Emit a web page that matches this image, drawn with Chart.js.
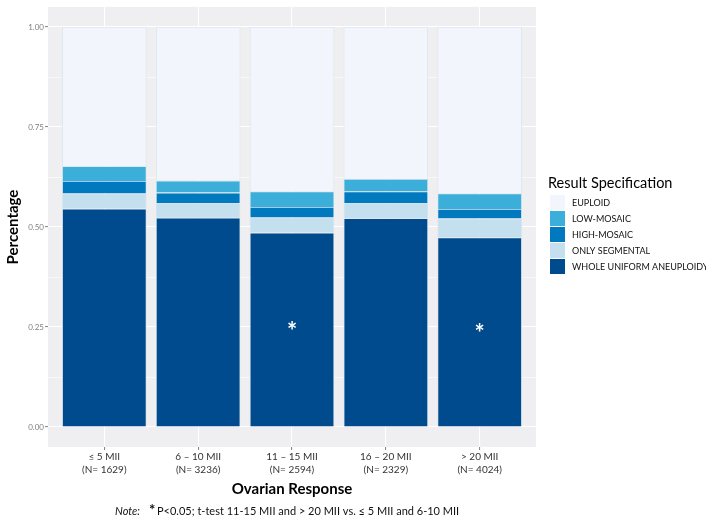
<!DOCTYPE html>
<html>
<head>
<meta charset="utf-8">
<script src="https://cdn.jsdelivr.net/npm/chart.js@4.4.1/dist/chart.umd.min.js"></script>
<style>
  html, body { margin: 0; padding: 0; background: #ffffff; }
  canvas { display: block; }
</style>
</head>
<body>
<canvas id="chart" width="706" height="527"></canvas>
<script>
// Ovarian response groups, bottom-to-top share of each result type
const groups = ["≤ 5 MII", "6 – 10 MII", "11 – 15 MII", "16 – 20 MII", "> 20 MII"];
const groupN = ["(N= 1629)", "(N= 3236)", "(N= 2594)", "(N= 2329)", "(N= 4024)"];

const wholeUniform = [0.546, 0.523, 0.486, 0.522, 0.474];
const onlySegmental = [0.038, 0.037, 0.038, 0.038, 0.047];
const highMosaic = [0.031, 0.026, 0.026, 0.029, 0.024];
const lowMosaic = [0.037, 0.030, 0.039, 0.031, 0.039];
const euploid = [0.348, 0.384, 0.411, 0.380, 0.416];

// significance markers (y position of the star, null = none)
const starAt = [null, null, 0.25, null, 0.245];

const yTicks = [0, 0.125, 0.25, 0.375, 0.5, 0.625, 0.75, 0.875, 1];

const FONT = "Lato, 'Open Sans', sans-serif";
const PANEL_BG = "#EFEFF1";

const SERIES = [
  { label: "WHOLE UNIFORM ANEUPLOIDY", values: wholeUniform, color: "#004B8D" },
  { label: "ONLY SEGMENTAL", values: onlySegmental, color: "#C4DFEE" },
  { label: "HIGH-MOSAIC", values: highMosaic, color: "#0079BF" },
  { label: "LOW-MOSAIC", values: lowMosaic, color: "#3BAEDA" },
  { label: "EUPLOID", values: euploid, color: "#F2F5FB" },
];

const isMajor = v => Math.abs(v * 4 - Math.round(v * 4)) < 1e-6;

const panelPlugin = {
  id: "panel",
  beforeDraw(chart) {
    const { ctx, chartArea: a } = chart;
    ctx.save();
    ctx.fillStyle = PANEL_BG;
    ctx.fillRect(a.left, a.top, a.right - a.left, a.bottom - a.top);
    ctx.restore();
  },
  afterDatasetsDraw(chart) {
    const { ctx, scales } = chart;
    ctx.save();
    ctx.fillStyle = "#ffffff";
    ctx.font = "bold 24px " + FONT;
    ctx.textAlign = "center";
    ctx.textBaseline = "middle";
    starAt.forEach((v, i) => {
      if (v == null) return;
      ctx.fillText("*", scales.x.getPixelForValue(i + 1), scales.y.getPixelForValue(v) + 5);
    });
    ctx.restore();
  },
  afterDraw(chart) {
    const { ctx, chartArea: a } = chart;
    ctx.save();
    ctx.fillStyle = "#000000";

    // y axis title
    ctx.save();
    ctx.translate(13, (a.top + a.bottom) / 2);
    ctx.rotate(-Math.PI / 2);
    ctx.font = "bold 15px " + FONT;
    ctx.textAlign = "center";
    ctx.textBaseline = "middle";
    ctx.fillText("Percentage", 0, 0);
    ctx.restore();

    // x axis title
    ctx.font = "bold 15px " + FONT;
    ctx.textAlign = "center";
    ctx.textBaseline = "middle";
    ctx.fillText("Ovarian Response", (a.left + a.right) / 2, 489);

    // footnote
    ctx.textAlign = "left";
    ctx.fillStyle = "#111111";
    ctx.font = "italic 11px " + FONT;
    ctx.fillText("Note:", 115, 511);
    ctx.font = "bold 15px " + FONT;
    ctx.fillText("*", 149, 510);
    ctx.font = "11px " + FONT;
    ctx.fillText("P<0.05; t-test 11-15 MII and > 20 MII vs. ≤ 5 MII and 6-10 MII", 157, 511);

    // legend
    ctx.fillStyle = "#000000";
    ctx.font = "14.5px " + FONT;
    ctx.textBaseline = "alphabetic";
    ctx.fillText("Result Specification", 548, 188);
    ctx.font = "9px " + FONT;
    ctx.textBaseline = "middle";
    SERIES.slice().reverse().forEach((s, i) => {
      const top = 195 + i * 16;
      ctx.fillStyle = s.color;
      ctx.fillRect(550, top, 15, 15);
      ctx.fillStyle = "#111111";
      ctx.fillText(s.label, 572, top + 8);
    });
    ctx.restore();
  },
};

new Chart(document.getElementById("chart"), {
  type: "bar",
  data: {
    datasets: SERIES.map(s => ({
      label: s.label,
      data: s.values.map((v, i) => ({ x: i + 1, y: v })),
      backgroundColor: s.color,
      borderColor: "rgba(205,226,240,0.9)",
      borderWidth: 0.8,
      barPercentage: 0.9,
      categoryPercentage: 1,
    })),
  },
  options: {
    responsive: false,
    animation: false,
    devicePixelRatio: 1,
    layout: { padding: { top: 7, right: 170, left: 0, bottom: 0 } },
    plugins: { legend: { display: false }, tooltip: { enabled: false } },
    scales: {
      x: {
        type: "linear",
        stacked: true,
        offset: false,
        min: 0.4,
        max: 5.6,
        afterFit(scale) { scale.height = 80; },
        afterBuildTicks(scale) { scale.ticks = groups.map((g, i) => ({ value: i + 1 })); },
        ticks: {
          autoSkip: false,
          maxRotation: 0,
          padding: 1,
          color: "#333333",
          font: { family: FONT, size: 10, lineHeight: 1.25 },
          callback: (v) => [groups[v - 1], groupN[v - 1]],
        },
        grid: { color: "#ffffff", lineWidth: 1.1, tickColor: "#8a8a8a", tickLength: 3, offset: false },
        border: { display: false },
      },
      y: {
        stacked: true,
        min: -0.05,
        max: 1.05,
        afterFit(scale) { scale.width = 48; },
        afterBuildTicks(scale) { scale.ticks = yTicks.map(v => ({ value: v })); },
        ticks: {
          padding: 1,
          color: "#7f7f7f",
          font: { family: FONT, size: 8 },
          callback: v => isMajor(v) ? v.toFixed(2) : "",
        },
        grid: {
          color: "#ffffff",
          lineWidth: c => isMajor(c.tick.value) ? 1.1 : 0.55,
          tickColor: c => isMajor(c.tick.value) ? "#8a8a8a" : "rgba(0,0,0,0)",
          tickLength: 3,
        },
        border: { display: false },
      },
    },
  },
  plugins: [panelPlugin],
});
</script>
</body>
</html>
